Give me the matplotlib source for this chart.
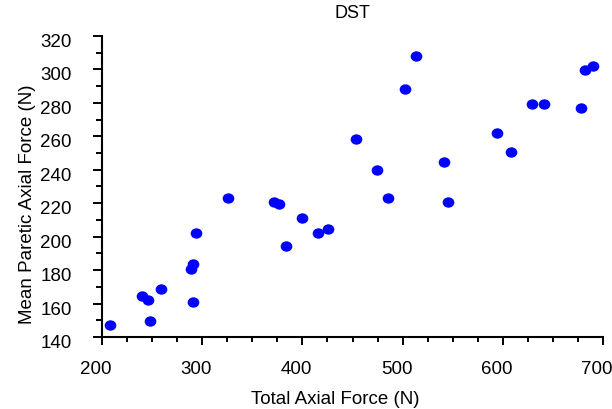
import matplotlib
matplotlib.use("Agg")
import matplotlib.pyplot as plt
import numpy as np
from matplotlib.path import Path
from matplotlib.markers import MarkerStyle
from matplotlib.transforms import ScaledTranslation, Affine2D
from matplotlib.ticker import MultipleLocator

total_force = [208, 240, 245.7, 247.6, 259, 289, 291, 291, 294, 325.6,
               371.8, 377, 383.7, 400, 416, 425.7, 453.3, 474.3, 485.9, 502,
               513.6, 541.2, 545.8, 594.4, 608.4, 629, 640.7, 677.6, 681.6, 689.6]
paretic_force = [147.2, 164.7, 162.1, 149.8, 168.5, 180.7, 183.7, 161.1, 202, 223.4,
                 220.7, 219.5, 194.6, 211, 202, 204.6, 258.2, 239.7, 223.3, 288.1,
                 308.2, 244.5, 220.7, 262, 250.8, 279.5, 279.5, 277, 299.5, 302.1]

title = "DST"
xlabel = "Total Axial Force (N)"
ylabel = "Mean Paretic Axial Force (N)"
x_ticks = [200, 300, 400, 500, 600, 700]
y_ticks = [140, 160, 180, 200, 220, 240, 260, 280, 300, 320]

plt.rcParams['font.family'] = ['Liberation Sans', 'DejaVu Sans']

W, H, DPI = 612, 409, 100
fig = plt.figure(figsize=(W / DPI, H / DPI), dpi=DPI)
L, R, T, B = 102, 603, 36, 337
ax = fig.add_axes([L / W, (H - B) / H, (R - L) / W, (B - T) / H])

ell = Path.unit_circle().transformed(Affine2D().scale(1.0, 0.89))
ax.scatter(total_force, paretic_force, s=8.4 ** 2, marker=MarkerStyle(ell),
           color='#0000ff', linewidths=0, zorder=3, clip_on=False)

ax.set_xlim(200, 700)
ax.set_ylim(140, 320)
ax.set_xticks(x_ticks)
ax.set_yticks(y_ticks)
ax.xaxis.set_minor_locator(MultipleLocator(25))
ax.yaxis.set_minor_locator(MultipleLocator(10))

for s in ['top', 'right']:
    ax.spines[s].set_visible(False)
for s in ['left', 'bottom']:
    ax.spines[s].set_linewidth(1.5)

fs = 13.5
ax.tick_params(axis='both', which='major', direction='out', width=1.4, labelsize=fs)
ax.tick_params(axis='x', which='major', length=6, pad=11)
ax.tick_params(axis='x', which='minor', length=3.3, width=1.4)
ax.tick_params(axis='y', which='major', length=6.7, pad=15)
ax.tick_params(axis='y', which='minor', length=4, width=1.4)

for lab in ax.get_xticklabels():
    lab.set_transform(lab.get_transform() + ScaledTranslation(-6 / DPI, 0, fig.dpi_scale_trans))
for lab in ax.get_yticklabels():
    lab.set_transform(lab.get_transform() + ScaledTranslation(0, -4.5 / DPI, fig.dpi_scale_trans))

ax.set_title(title, fontsize=13, pad=13)
ax.set_xlabel(xlabel, fontsize=fs)
ax.set_ylabel(ylabel, fontsize=fs)
ax.xaxis.set_label_coords(0.465, -0.178)
ax.yaxis.set_label_coords(-0.131, 0.44)

fig.savefig("out.png", dpi=DPI)
